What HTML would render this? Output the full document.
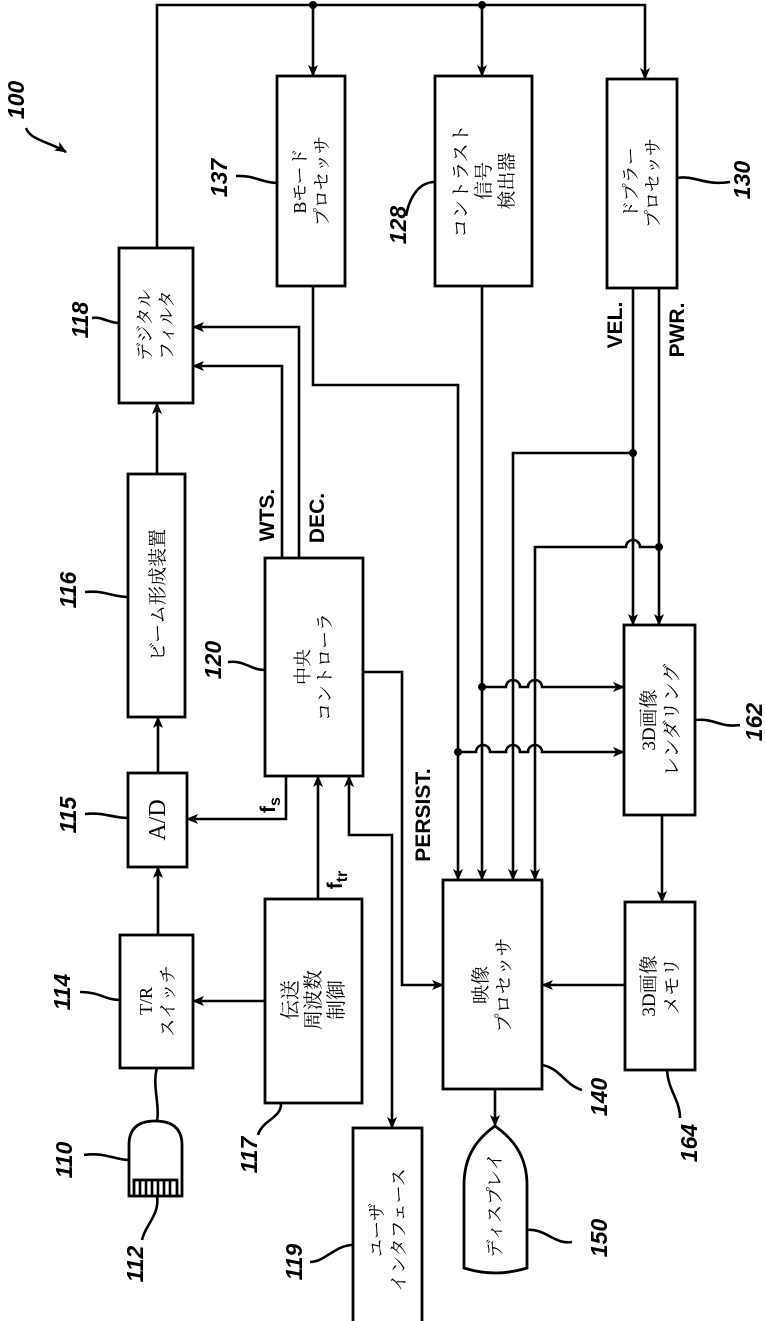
<!DOCTYPE html>
<html><head><meta charset="utf-8"><style>
html,body{margin:0;padding:0;background:#fff;}
svg{display:block;}
.b{fill:#fff;stroke:#000;stroke-width:2.8;}
.l{fill:none;stroke:#000;stroke-width:2.6;}
.t{font-family:"Liberation Serif","Noto Serif CJK SC","Noto Sans CJK JP",serif;font-size:18px;fill:#000;}
.n{font-family:"Liberation Sans",sans-serif;font-weight:bold;font-style:italic;font-size:23px;fill:#000;}
.s{font-family:"Liberation Sans",sans-serif;font-weight:bold;font-size:21px;fill:#000;}
</style></head><body>
<svg width="765" height="1321" viewBox="0 0 765 1321" xmlns="http://www.w3.org/2000/svg">
<defs>
<marker id="a" markerWidth="12" markerHeight="10" refX="11" refY="5" orient="auto" markerUnits="userSpaceOnUse">
<path d="M0,0 L12,5 L0,10 L3,5 Z" fill="#000"/></marker>
<marker id="as" markerWidth="12" markerHeight="10" refX="1" refY="5" orient="auto" markerUnits="userSpaceOnUse">
<path d="M12,0 L0,5 L12,10 L9,5 Z" fill="#000"/></marker>
</defs>

<!-- boxes -->
<rect class="b" x="119" y="248" width="74" height="155"/>
<rect class="b" x="128" y="474" width="57" height="243"/>
<rect class="b" x="128" y="773" width="59" height="94"/>
<rect class="b" x="120" y="935" width="73" height="133"/>
<rect class="b" x="265" y="558" width="98" height="218"/>
<rect class="b" x="265" y="899" width="97" height="204"/>
<rect class="b" x="353" y="1128" width="69" height="200"/>
<rect class="b" x="443" y="880" width="99" height="209"/>
<rect class="b" x="277" y="76" width="68" height="210"/>
<rect class="b" x="435" y="76" width="97" height="210"/>
<rect class="b" x="607" y="79" width="70" height="209"/>
<rect class="b" x="624" y="625" width="71" height="190"/>
<rect class="b" x="625" y="902" width="70" height="168"/>
<path class="b" d="M495 1126 C512 1138 527 1155 527 1185 V1268 Q495 1278 464 1268 V1185 C464 1155 478 1138 495 1126 Z"/>
<path class="b" d="M129 1196 V1145 Q129 1121 155 1121 Q182 1121 182 1145 V1196 Z"/>
<rect class="b" x="134" y="1180" width="43" height="16"/>
<path class="l" stroke-width="1.5" d="M140 1180V1196M146 1180V1196M152 1180V1196M158 1180V1196M164 1180V1196M170 1180V1196"/>

<!-- connectors -->
<path class="l" d="M157 248 V5 H645 V79" marker-end="url(#a)"/>
<path class="l" d="M313 5 V76" marker-end="url(#a)"/>
<path class="l" d="M482 5 V76" marker-end="url(#a)"/>
<circle cx="313" cy="5" r="4"/><circle cx="482" cy="5" r="4"/>
<path class="l" d="M157 474 V403" marker-end="url(#a)"/>
<path class="l" d="M158 773 V717" marker-end="url(#a)"/>
<path class="l" d="M158 935 V867" marker-end="url(#a)"/>
<path class="l" d="M282 558 V366 H193" marker-end="url(#a)"/>
<path class="l" d="M299 558 V327 H193" marker-end="url(#a)"/>
<path class="l" d="M286 776 V819 H187" marker-end="url(#a)"/>
<path class="l" d="M318 899 V776" marker-end="url(#a)"/>
<path class="l" d="M349 776 V835 H392 V1128" marker-start="url(#as)" marker-end="url(#a)"/>
<path class="l" d="M265 1001 H193" marker-end="url(#a)"/>
<path class="l" d="M363 672 H402 V985 H443" marker-end="url(#a)"/>
<path class="l" d="M313 286 V385 H458 V880" marker-end="url(#a)"/>
<path class="l" d="M482 286 V880" marker-end="url(#a)"/>
<path class="l" d="M633 288 V625" marker-end="url(#a)"/>
<path class="l" d="M659 288 V625" marker-end="url(#a)"/>
<path class="l" d="M633 453 H513 V880" marker-end="url(#a)"/>
<path class="l" d="M659 547 H640 A7 7 0 0 0 626 547 H535 V880" marker-end="url(#a)"/>
<path class="l" d="M482 687 H506 A7 7 0 0 1 520 687 H528 A7 7 0 0 1 542 687 H624" marker-end="url(#a)"/>
<path class="l" d="M458 752 H476 A7 7 0 0 1 490 752 H506 A7 7 0 0 1 520 752 H528 A7 7 0 0 1 542 752 H624" marker-end="url(#a)"/>
<circle cx="633" cy="453" r="4"/><circle cx="659" cy="547" r="4"/>
<circle cx="482" cy="687" r="4"/><circle cx="458" cy="752" r="4"/>
<path class="l" d="M662 815 V902" marker-end="url(#a)"/>
<path class="l" d="M625 985 H542" marker-end="url(#a)"/>
<path class="l" d="M495 1089 V1126" marker-end="url(#a)"/>
<path class="l" d="M157 1068 C152 1085 160 1105 157 1121"/>

<!-- leaders -->
<g class="l" stroke-width="2.2">
<path d="M26 128 C30 140 50 142 66 152" marker-end="url(#a)"/>
<path d="M277 183 C262 183 255 175 236 176"/>
<path d="M435 182 C420 182 410 195 406 216"/>
<path d="M677 178 C695 175 705 186 730 182"/>
<path d="M119 323 C108 323 102 316 92 318"/>
<path d="M128 597 C112 597 105 590 85 592"/>
<path d="M265 670 C250 670 245 660 228 662"/>
<path d="M128 818 C112 818 105 812 85 814"/>
<path d="M120 1000 C105 1000 100 992 80 992"/>
<path d="M129 1160 C115 1160 105 1152 84 1155"/>
<path d="M157 1196 C160 1215 145 1225 142 1240"/>
<path d="M281 1103 C282 1118 262 1120 258 1135"/>
<path d="M353 1245 C335 1245 325 1262 310 1262"/>
<path d="M527 1230 C545 1228 555 1245 572 1242"/>
<path d="M542 1065 C560 1068 565 1085 582 1090"/>
<path d="M667 1070 C668 1090 680 1100 680 1118"/>
<path d="M695 720 C715 718 720 728 740 725"/>
</g>

<!-- box texts -->
<g class="t" text-anchor="middle">
<text transform="translate(156,325) rotate(-90)"><tspan x="0" y="-5">デジタル</tspan><tspan x="0" y="17">フィルタ</tspan></text>
<text transform="translate(157,595) rotate(-90)" font-size="19" y="7">ビーム形成装置</text>
<text transform="translate(157,820) rotate(-90)" font-size="24" y="8">A/D</text>
<text transform="translate(157,1001) rotate(-90)"><tspan x="0" y="-5">T/R</tspan><tspan x="0" y="17">スイッチ</tspan></text>
<text transform="translate(314,667) rotate(-90)"><tspan x="0" y="-5">中央</tspan><tspan x="0" y="17">コントローラ</tspan></text>
<text transform="translate(313,1000) rotate(-90)" font-size="20"><tspan x="0" y="-16">伝送</tspan><tspan x="0" y="7">周波数</tspan><tspan x="0" y="30">制御</tspan></text>
<text transform="translate(388,1230) rotate(-90)"><tspan x="0" y="-5">ユーザ</tspan><tspan x="0" y="17">インタフェース</tspan></text>
<text transform="translate(492,985) rotate(-90)" font-size="19"><tspan x="0" y="-5">映像</tspan><tspan x="0" y="18">プロセッサ</tspan></text>
<text transform="translate(495,1205) rotate(-90)" y="6">ディスプレイ</text>
<text transform="translate(311,181) rotate(-90)"><tspan x="0" y="-5">Bモード</tspan><tspan x="0" y="17">プロセッサ</tspan></text>
<text transform="translate(483,181) rotate(-90)" font-size="19"><tspan x="0" y="-16">コントラスト</tspan><tspan x="0" y="7">信号</tspan><tspan x="0" y="30">検出器</tspan></text>
<text transform="translate(642,183) rotate(-90)"><tspan x="0" y="-5">ドプラー</tspan><tspan x="0" y="17">プロセッサ</tspan></text>
<text transform="translate(660,720) rotate(-90)" font-size="19"><tspan x="0" y="-5">3D画像</tspan><tspan x="0" y="18">レンダリング</tspan></text>
<text transform="translate(660,986) rotate(-90)" font-size="19"><tspan x="0" y="-5">3D画像</tspan><tspan x="0" y="18">メモリ</tspan></text>
</g>

<!-- signal labels -->
<g class="s" text-anchor="middle">
<text transform="translate(274,515) rotate(-90)">WTS.</text>
<text transform="translate(324,518) rotate(-90)">DEC.</text>
<text transform="translate(622,325) rotate(-90)">VEL.</text>
<text transform="translate(684,330) rotate(-90)">PWR.</text>
<text transform="translate(430,815) rotate(-90)">PERSIST.</text>
<text transform="translate(275,805) rotate(-90)">f<tspan font-size="16" dy="5">s</tspan></text>
<text transform="translate(342,880) rotate(-90)">f<tspan font-size="16" dy="5">tr</tspan></text>
</g>

<!-- reference numbers -->
<g class="n" text-anchor="middle">
<text transform="translate(24,100) rotate(-90)">100</text>
<text transform="translate(227,178) rotate(-90)">137</text>
<text transform="translate(406,225) rotate(-90)">128</text>
<text transform="translate(750,180) rotate(-90)">130</text>
<text transform="translate(88,320) rotate(-90)">118</text>
<text transform="translate(76,590) rotate(-90)">116</text>
<text transform="translate(221,660) rotate(-90)">120</text>
<text transform="translate(76,815) rotate(-90)">115</text>
<text transform="translate(70,992) rotate(-90)">114</text>
<text transform="translate(72,1160) rotate(-90)">110</text>
<text transform="translate(143,1264) rotate(-90)">112</text>
<text transform="translate(257,1155) rotate(-90)">117</text>
<text transform="translate(302,1262) rotate(-90)">119</text>
<text transform="translate(607,1238) rotate(-90)">150</text>
<text transform="translate(607,1097) rotate(-90)">140</text>
<text transform="translate(697,1143) rotate(-90)">164</text>
<text transform="translate(762,722) rotate(-90)">162</text>
</g>
</svg>
</body></html>
